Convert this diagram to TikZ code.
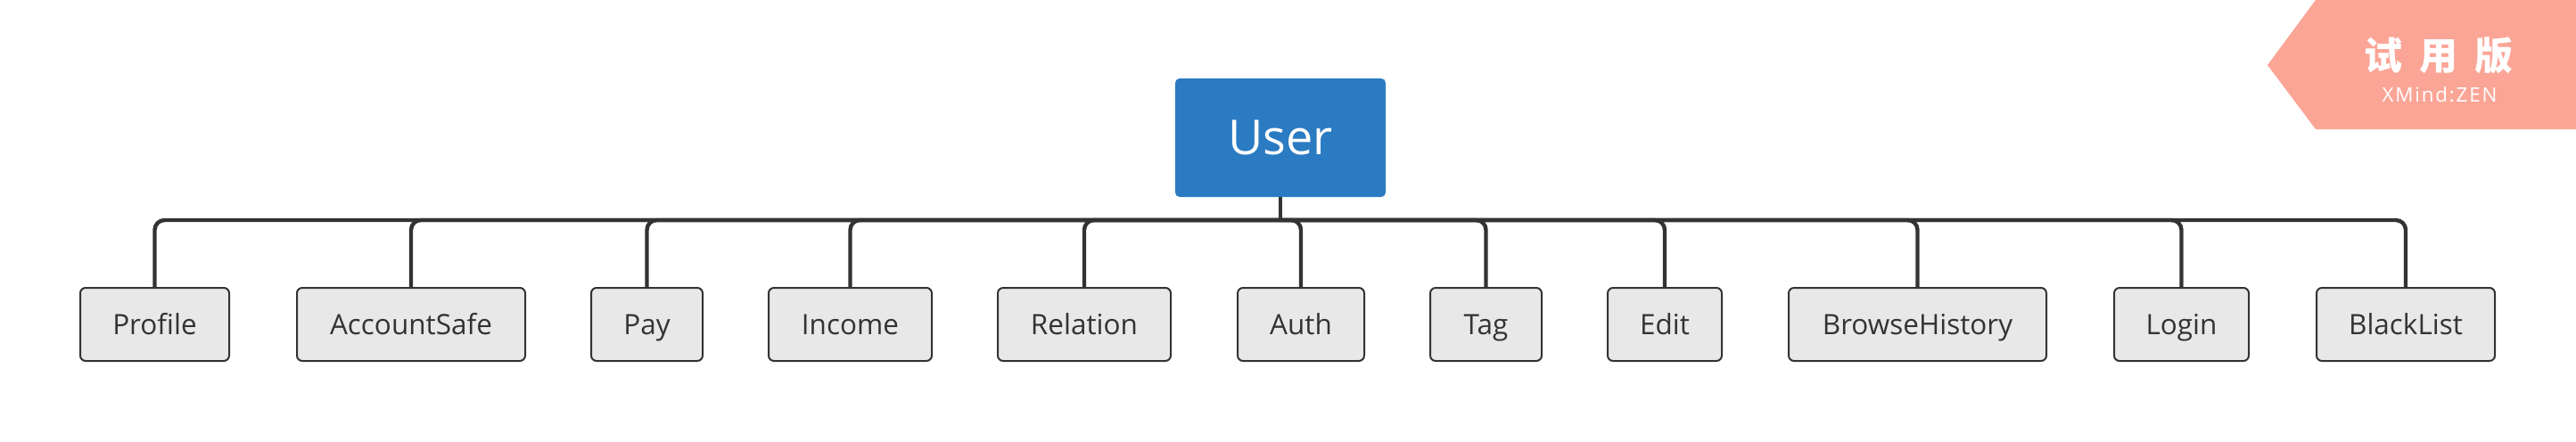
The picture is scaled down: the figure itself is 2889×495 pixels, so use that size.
\documentclass[tikz,border=0pt]{standalone}
\usepackage{fontspec}
\setmainfont{Open Sans}
\newfontfamily\cjkfont{Noto Sans CJK SC}
\newfontfamily\wmfont[LetterSpace=8.0]{Open Sans}
\definecolor{userblue}{HTML}{2B7BC2}
\definecolor{childfill}{HTML}{E8E8E8}
\definecolor{linec}{HTML}{333333}
\definecolor{wmcolor}{HTML}{FBA597}
\begin{document}
\begin{tikzpicture}[x=0.5pt,y=-0.5pt,
  rootbox/.style={fill=userblue, rounded corners=2.5pt, inner sep=0pt,
    minimum width=118pt, minimum height=66.5pt, text=white,
    font=\fontsize{27}{32}\selectfont, text height=19.3pt, text depth=0pt},
  childbox/.style={draw=linec, fill=childfill, line width=1pt, rounded corners=3pt,
    inner sep=0pt, minimum height=41pt, text=linec,
    font=\fontsize{15.75}{18}\selectfont, text height=11.25pt, text depth=0pt},
  conn/.style={draw=linec, line width=2.2pt, rounded corners=5.5pt}]
\useasboundingbox (0,0) rectangle (2889,495);
\fill[white] (0,0) rectangle (2889,495);

% watermark
\fill[wmcolor] (2597,0) -- (2889,0) -- (2889,145) -- (2597,145) -- (2543,73) -- cycle;
\node[text=white, inner sep=0pt, font=\cjkfont\bfseries\fontsize{21.5}{24}\selectfont,
  text height=17.6pt, text depth=1.7pt] (wmtitle) at (2735,62.5)
  {试\hspace{9.5pt}用\hspace{9.5pt}版};
\node[text=white, inner sep=0pt, font=\wmfont\fontsize{11.2}{13}\selectfont,
  text height=8pt, text depth=0pt] (wmsub) at (2736,106) {XMind:ZEN};

% root
\node[rootbox] (user) at (1436,154.5) {User};
\coordinate (j) at (1436,247);

% children
\node[childbox, minimum width=83.5pt]  (profile)   at (173.5,364)  {Profile};
\node[childbox, minimum width=128pt]   (account)   at (461,364)    {AccountSafe};
\node[childbox, minimum width=62.5pt]  (pay)       at (725.5,364)  {Pay};
\node[childbox, minimum width=91.5pt]  (income)    at (953.5,364)  {Income};
\node[childbox, minimum width=97pt]    (relation)  at (1216,364)   {Relation};
\node[childbox, minimum width=71pt]    (auth)      at (1459,364)   {Auth};
\node[childbox, minimum width=62.5pt]  (tag)       at (1666.5,364) {Tag};
\node[childbox, minimum width=64pt]    (edit)      at (1867,364)   {Edit};
\node[childbox, minimum width=144.5pt] (browse)    at (2150.5,364) {BrowseHistory};
\node[childbox, minimum width=75.5pt]  (login)     at (2446.5,364) {Login};
\node[childbox, minimum width=100pt]   (blacklist) at (2698,364)   {BlackList};

% connectors
\draw[conn] (user.south) -- (j);
\foreach \c in {profile,account,pay,income,relation,auth,tag,edit,browse,login,blacklist}
  \draw[conn] (j) -| (\c.north);
\end{tikzpicture}
\end{document}
